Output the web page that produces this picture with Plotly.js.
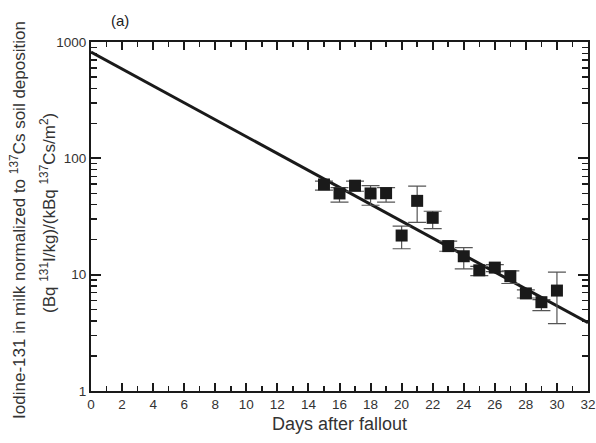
<!DOCTYPE html>
<html>
<head>
<meta charset="utf-8">
<script src="https://cdn.plot.ly/plotly-3.0.1.min.js"></script>
<style>html,body{margin:0;padding:0;background:#fff;}#chart{width:596px;height:443px;}</style>
</head>
<body>
<div id="chart"></div>
<script>
// Measured milk data (days after fallout)
const days = [15,16,17,18,19,20,21,22,23,24,25,26,27,28,29,30];
const values = [59.6,49.9,58.2,49.9,50.2,21.7,43.1,30.8,17.6,14.4,10.9,11.5,9.7,6.9,5.8,7.3];
const upperValues = [63.6,56,63.6,58.2,56,26.1,57.8,35.1,19.4,17.1,11.8,12.2,10.8,7.4,6.1,10.5];
const lowerValues = [53.2,42,52.1,39.5,42,16.7,28.1,24.9,15.9,11.2,9.8,10.6,8.4,6.3,4.9,3.8];
// Fitted exponential line endpoints
const fitDays = [0, 32];
const fitValues = [821, 3.86];
const xTickVals = [0,2,4,6,8,10,12,14,16,18,20,22,24,26,28,30,32];
const yTickVals = [1,10,100,1000];
const yTickText = ['1','10','100','1000'];

const errPlus = values.map((v,i)=>upperValues[i]-v);
const errMinus = values.map((v,i)=>v-lowerValues[i]);
const yMinor = [];
[1,10,100].forEach(d=>{for(let k=2;k<=9;k++) yMinor.push(k*d);});

const font = "'Liberation Sans', Arial, Helvetica, sans-serif";
const ink = '#1a1a1a';

const traces = [
  {
    x: fitDays, y: fitValues, type: 'scatter', mode: 'lines',
    line: {color: ink, width: 3}, hoverinfo: 'skip', showlegend: false
  },
  {
    x: days, y: values, type: 'scatter', mode: 'markers',
    marker: {symbol: 'square', size: 12, color: ink},
    error_y: {type: 'data', symmetric: false, array: errPlus, arrayminus: errMinus,
      color: '#555', thickness: 1.2, width: 9},
    showlegend: false
  }
];

const layout = {
  width: 596, height: 443,
  margin: {l: 91, r: 8, t: 42, b: 52},
  paper_bgcolor: '#fff', plot_bgcolor: '#fff',
  font: {family: font, color: '#333', size: 13},
  showlegend: false,
  xaxis: {
    range: [0, 32], tickvals: xTickVals, ticktext: xTickVals.map(String),
    ticks: 'inside', ticklen: 8, tickwidth: 2, tickcolor: ink,
    minor: {ticks: 'inside', ticklen: 5, tickwidth: 1.5, tickcolor: ink, dtick: 1, showgrid: false},
    showline: true, linewidth: 2, linecolor: ink, mirror: 'allticks',
    showgrid: false, zeroline: false,
    tickfont: {size: 13.5, color: '#333', family: font},
    title: {text: 'Days after fallout', font: {size: 18, color: '#333', family: font}, standoff: 6}
  },
  yaxis: {
    type: 'log', range: [0, 3], tickvals: yTickVals, ticktext: yTickText,
    ticks: 'inside', ticklen: 10, tickwidth: 2, tickcolor: ink,
    minor: {ticks: 'inside', ticklen: 6, tickwidth: 1.5, tickcolor: ink, tickvals: yMinor, showgrid: false},
    showline: true, linewidth: 2, linecolor: ink, mirror: 'allticks',
    showgrid: false, zeroline: false,
    tickfont: {size: 13.5, color: '#333', family: font},
    ticklabelstandoff: 0
  },
  annotations: [
    {text: 'Iodine-131 in milk normalized to <sup>137</sup>Cs soil deposition',
     xref: 'paper', yref: 'paper', x: -0.147, y: 0.49, xanchor: 'center', yanchor: 'middle',
     textangle: -90, showarrow: false,
     font: {size: 17, color: '#333', family: font}},
    {text: '(Bq <sup>131</sup>I/kg)/(kBq <sup>137</sup>Cs/m<sup>2</sup>)',
     xref: 'paper', yref: 'paper', x: -0.0865, y: 0.51, xanchor: 'center', yanchor: 'middle',
     textangle: -90, showarrow: false,
     font: {size: 17, color: '#333', family: font}},
    {text: '(a)', xref: 'paper', yref: 'paper', x: 0, y: 1, xanchor: 'left', yanchor: 'bottom',
     xshift: 18, yshift: 11, showarrow: false, font: {size: 15, color: '#222', family: font}}
  ]
};

Plotly.newPlot('chart', traces, layout, {displayModeBar: false, staticPlot: true});
</script>
</body>
</html>
